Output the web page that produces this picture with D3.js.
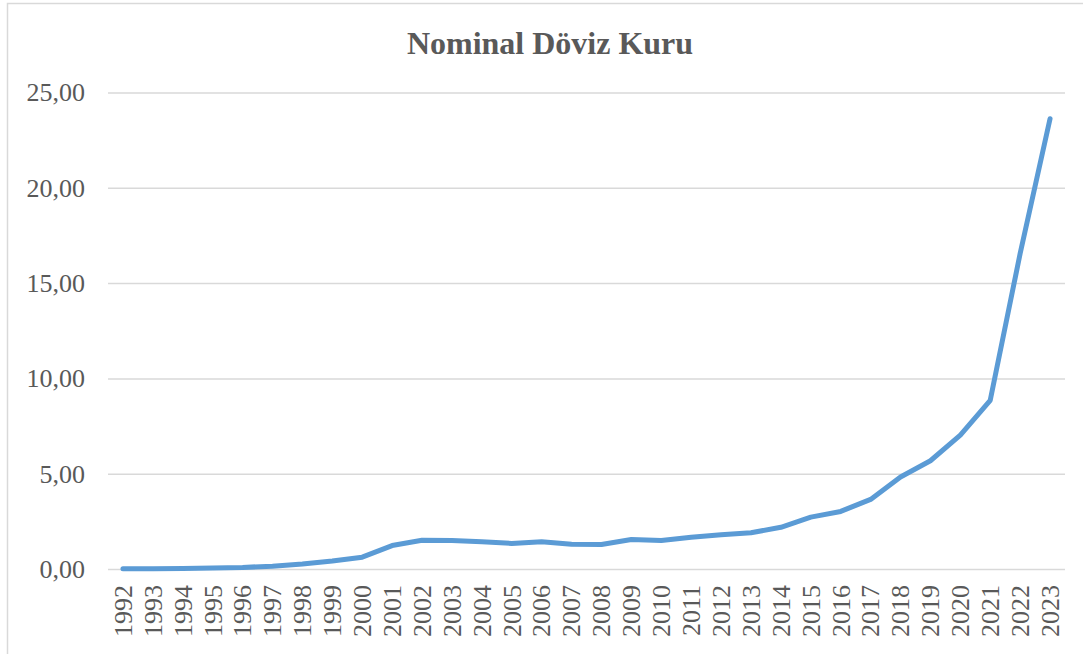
<!DOCTYPE html>
<html>
<head>
<meta charset="utf-8">
<script src="https://cdn.jsdelivr.net/npm/d3@7"></script>
<style>
  html, body { margin: 0; padding: 0; background: #ffffff; }
  svg { display: block; }
</style>
</head>
<body>
<svg id="chart" width="1083" height="654"></svg>
<script>
// Nominal exchange rate, yearly averages
const years = ["1992","1993","1994","1995","1996","1997","1998","1999","2000","2001",
  "2002","2003","2004","2005","2006","2007","2008","2009","2010","2011",
  "2012","2013","2014","2015","2016","2017","2018","2019","2020","2021","2022","2023"];
const rates = [0.01, 0.01, 0.03, 0.05, 0.08, 0.15, 0.26, 0.42, 0.62, 1.23,
  1.51, 1.50, 1.43, 1.34, 1.43, 1.30, 1.29, 1.55, 1.50, 1.67,
  1.80, 1.90, 2.19, 2.72, 3.02, 3.65, 4.83, 5.68, 7.02, 8.85, 16.55, 23.62];
const yTicks = [0, 5, 10, 15, 20, 25];
const title = "Nominal Döviz Kuru";

const W = 1083, H = 654;
const plot = { left: 108, right: 1065, top: 92.5, bottom: 569 };
const textColor = "#595959";
const gridColor = "#d9d9d9";
const serif = "'Liberation Serif', 'Times New Roman', serif";

const svg = d3.select("#chart");

// chart frame
svg.append("rect")
  .attr("x", 7.5).attr("y", 3.5)
  .attr("width", W + 10).attr("height", H + 10)
  .attr("fill", "#fff")
  .attr("stroke", gridColor).attr("stroke-width", 1.5);

const x = d3.scaleBand().domain(years).range([plot.left, plot.right]).padding(0);
const y = d3.scaleLinear().domain([0, 25]).range([plot.bottom, plot.top]);

// title
svg.append("text")
  .attr("x", 550).attr("y", 54)
  .attr("text-anchor", "middle")
  .attr("font-family", serif).attr("font-weight", "bold")
  .attr("font-size", 32).attr("fill", textColor)
  .text(title);

// horizontal gridlines and value labels
const fmt = v => d3.format(".2f")(v).replace(".", ",");
const yAxis = d3.axisLeft(y).tickValues(yTicks).tickFormat(fmt)
  .tickSize(-(plot.right - plot.left)).tickPadding(23);
const gy = svg.append("g").attr("transform", `translate(${plot.left},0)`).call(yAxis);
gy.select(".domain").remove();
gy.selectAll(".tick line").attr("stroke", gridColor).attr("stroke-width", 1.5);
gy.selectAll(".tick text")
  .attr("font-family", serif).attr("font-size", 26).attr("fill", textColor);

// category axis with rotated year labels
const xAxis = d3.axisBottom(x).tickSize(0).tickPadding(0);
const gx = svg.append("g").attr("transform", `translate(0,${plot.bottom})`).call(xAxis);
gx.select(".domain").remove();
gx.selectAll(".tick text")
  .attr("font-family", serif).attr("font-size", 26).attr("fill", textColor)
  .attr("text-anchor", "end")
  .attr("transform", "rotate(-90)")
  .attr("x", -16).attr("y", 0).attr("dy", "0.34em");

// exchange rate line
const line = d3.line()
  .x((d, i) => x(years[i]) + x.bandwidth() / 2)
  .y(d => y(d));
svg.append("path")
  .datum(rates)
  .attr("d", line)
  .attr("fill", "none")
  .attr("stroke", "#5b9bd5")
  .attr("stroke-width", 5)
  .attr("stroke-linejoin", "round")
  .attr("stroke-linecap", "round");
</script>
</body>
</html>
